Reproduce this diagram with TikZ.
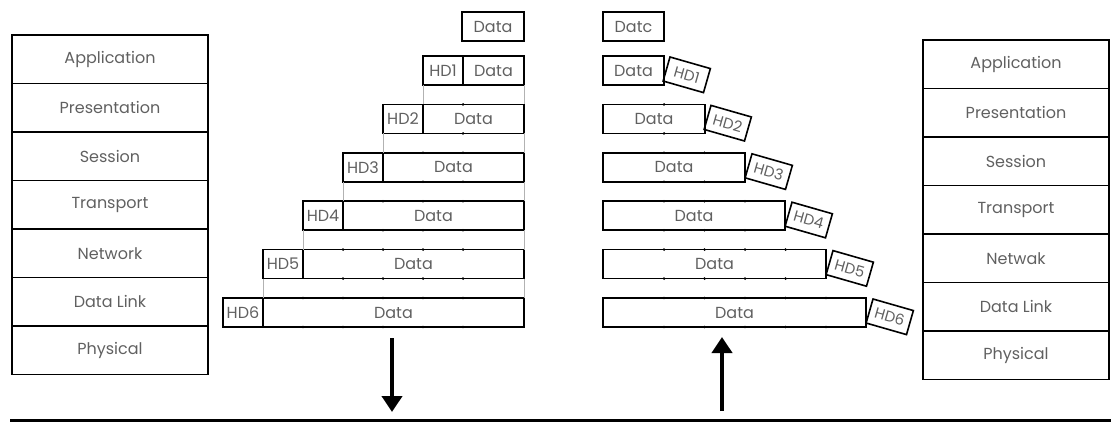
\documentclass[tikz,border=0pt]{standalone}
\usepackage{fontspec}
\setmainfont{Poppins}
\usepackage{tikz}
\usetikzlibrary{calc}
\usetikzlibrary{positioning}
\usetikzlibrary{arrows.meta}
\tikzstyle{layer} = [draw, line width=1.7pt, outer sep=0pt, inner sep=0pt, minimum height=48.5pt, text=gray!75!black, font=\fontsize{16}{18}\selectfont]
\tikzstyle{hdr} = [draw, line width=1.6pt, outer sep=0pt, inner sep=0pt, minimum width=40pt, minimum height=29pt, text=gray!75!black, font=\fontsize{16}{18}\selectfont]
\tikzstyle{pdu} = [hdr]
\tikzstyle{tilted} = [hdr, minimum width=42pt, minimum height=25pt, rotate=-16, anchor=north west, font=\fontsize{15}{17}\selectfont]
\tikzstyle{guide} = [gray!60, line width=0.6pt]
\tikzstyle{bigarrow} = [-{Triangle[width=20pt,length=16pt]}, line width=4.5pt]

\begin{document}
\begin{tikzpicture}[x=1pt, y=1pt]
    \useasboundingbox (0,0) rectangle (1111,-423);

    \node [layer, minimum width=196pt, anchor=north west] (lapp) at (12,-35) {Application};
    \node [layer, minimum width=196pt, below=0pt of lapp] (lpre) {Presentation};
    \node [layer, minimum width=196pt, below=0pt of lpre] (lses) {Session};
    \node [layer, minimum width=196pt, below=0pt of lses] (ltra) {Transport};
    \node [layer, minimum width=196pt, below=0pt of ltra] (lnet) {Network};
    \node [layer, minimum width=196pt, below=0pt of lnet] (llnk) {Data Link};
    \node [layer, minimum width=196pt, below=0pt of llnk] (lphy) {Physical};

    \node [layer, minimum width=186pt, anchor=north west] (rapp) at (923,-40) {Application};
    \node [layer, minimum width=186pt, below=0pt of rapp] (rpre) {Presentation};
    \node [layer, minimum width=186pt, below=0pt of rpre] (rses) {Session};
    \node [layer, minimum width=186pt, below=0pt of rses] (rtra) {Transport};
    \node [layer, minimum width=186pt, below=0pt of rtra] (rnet) {Netwak};
    \node [layer, minimum width=186pt, below=0pt of rnet] (rlnk) {Data Link};
    \node [layer, minimum width=186pt, below=0pt of rlnk] (rphy) {Physical};

    \node [pdu, minimum width=62pt, anchor=north west] (ld0) at (462,-12) {Data};
    \node [hdr, anchor=north west] (lh1) at (423,-56) {HD1};
    \node [pdu, minimum width=61pt, right=0pt of lh1] (ld1) {Data};
    \node [hdr, anchor=north west] (lh2) at (383,-104.4) {HD2};
    \node [pdu, minimum width=101pt, right=0pt of lh2] (ld2) {Data};
    \node [hdr, anchor=north west] (lh3) at (343,-152.8) {HD3};
    \node [pdu, minimum width=141pt, right=0pt of lh3] (ld3) {Data};
    \node [hdr, anchor=north west] (lh4) at (303,-201.2) {HD4};
    \node [pdu, minimum width=181pt, right=0pt of lh4] (ld4) {Data};
    \node [hdr, anchor=north west] (lh5) at (263,-249.6) {HD5};
    \node [pdu, minimum width=221pt, right=0pt of lh5] (ld5) {Data};
    \node [hdr, anchor=north west] (lh6) at (223,-298) {HD6};
    \node [pdu, minimum width=261pt, right=0pt of lh6] (ld6) {Data};

    \foreach \a/\b in {1/2,2/3,3/4,4/5,5/6} {
        \draw [guide] (lh\a.south west) -- (lh\b.north east);
        \draw [guide] (ld\a.south east) -- (ld\b.north east);
    }
    \foreach \r/\n in {2/0,3/1,4/2,5/3,6/4}
        \foreach \k in {0,...,\n} {
            \fill ([xshift={-(61+40*\k)*1pt}]ld\r.north east) circle (1.4pt);
            \fill ([xshift={-(61+40*\k)*1pt}]ld\r.south east) circle (1.4pt);
        }

    \node [pdu, minimum width=61pt, anchor=north west] (rd0) at (603,-12) {Datc};
    \node [pdu, minimum width=61pt, anchor=north west] (rd1) at (603,-56) {Data};
    \node [pdu, minimum width=102pt, anchor=north west] (rd2) at (603,-104.4) {Data};
    \node [pdu, minimum width=142pt, anchor=north west] (rd3) at (603,-152.8) {Data};
    \node [pdu, minimum width=182pt, anchor=north west] (rd4) at (603,-201.2) {Data};
    \node [pdu, minimum width=223pt, anchor=north west] (rd5) at (603,-249.6) {Data};
    \node [pdu, minimum width=263pt, anchor=north west] (rd6) at (603,-298) {Data};

    \node [tilted] (rh1) at ($(rd1.north east)+(6,-1)$) {HD1};
    \node [tilted] (rh2) at ($(rd2.north east)+(6,-1)$) {HD2};
    \node [tilted] (rh3) at ($(rd3.north east)+(7,-1)$) {HD3};
    \node [tilted] (rh4) at ($(rd4.north east)+(7,-1)$) {HD4};
    \node [tilted] (rh5) at ($(rd5.north east)+(7,-1)$) {HD5};
    \node [tilted] (rh6) at ($(rd6.north east)+(7,-1)$) {HD6};

    \foreach \r/\n in {2/0,3/1,4/2,5/3,6/4}
        \foreach \k in {0,...,\n} {
            \fill ([xshift={(61+40.5*\k)*1pt}]rd\r.north west) circle (1.4pt);
            \fill ([xshift={(61+40.5*\k)*1pt}]rd\r.south west) circle (1.4pt);
        }

    \coordinate (sendtop) at (392,-338);
    \coordinate (sendbot) at (392,-412);
    \coordinate (recvbot) at (722,-411);
    \coordinate (recvtop) at (722,-337);
    \draw [bigarrow] (sendtop) -- (sendbot);
    \draw [bigarrow] (recvbot) -- (recvtop);

    \coordinate (wirew) at (10,-420);
    \coordinate (wiree) at (1111,-420);
    \draw [line width=3pt] (wirew) -- (wiree);
\end{tikzpicture}
\end{document}
